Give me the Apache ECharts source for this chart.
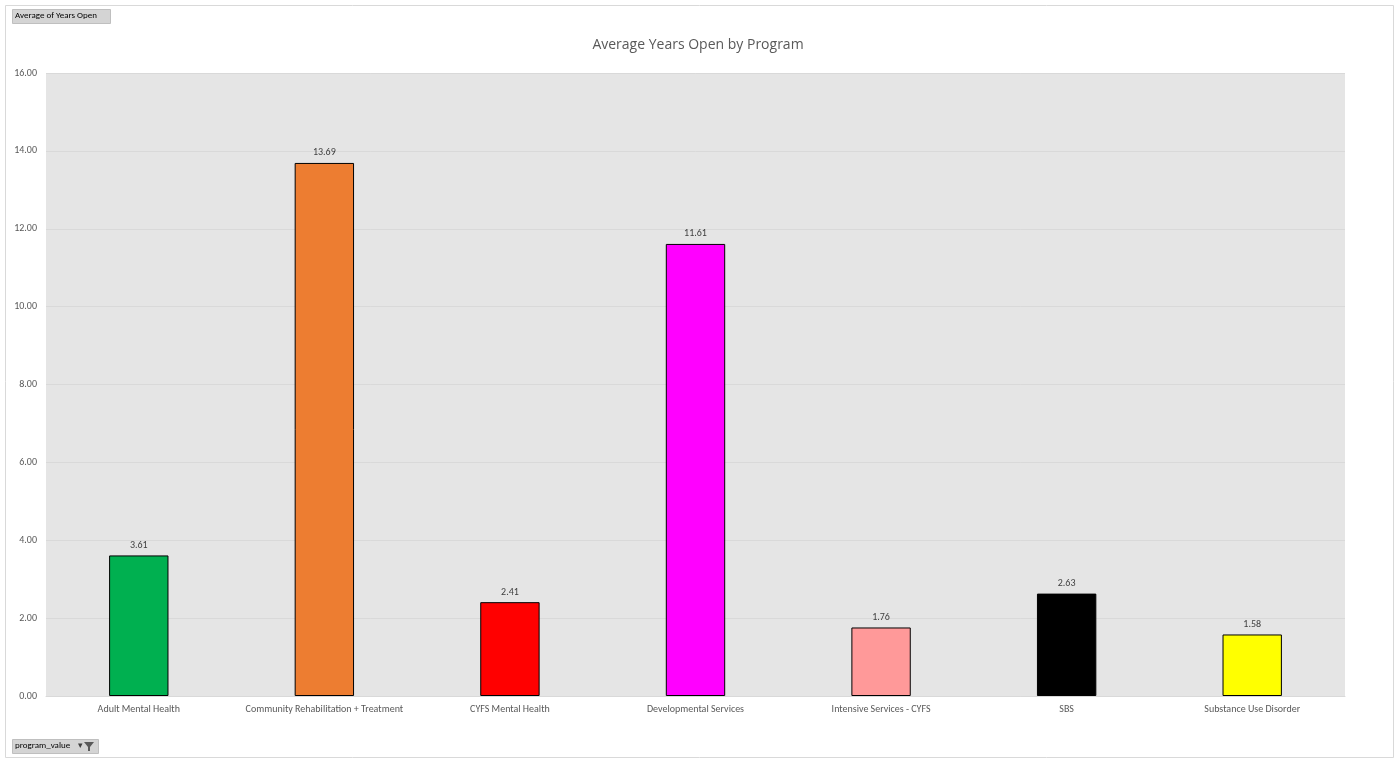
<!DOCTYPE html>
<html>
<head>
<meta charset="utf-8">
<script src="https://cdn.jsdelivr.net/npm/echarts@6/dist/echarts.min.js"></script>
<style>
html,body{margin:0;padding:0;background:#fff;}
#chart{width:1396px;height:758px;}
</style>
</head>
<body>
<div id="chart"></div>
<script>
const categories = ["Adult Mental Health","Community Rehabilitation + Treatment","CYFS Mental Health","Developmental Services","Intensive Services - CYFS","SBS","Substance Use Disorder"];
const values = [3.61, 13.69, 2.41, 11.61, 1.76, 2.63, 1.58];
const barColors = ["#00B050","#ED7D31","#FF0000","#FF00FF","#FF9999","#000000","#FFFF00"];
const chartTitle = "Average Years Open by Program";
const fieldButton = "Average of Years Open";
const filterButton = "program_value";

const chart = echarts.init(document.getElementById('chart'), null, {renderer:'canvas'});
const font = 'Calibri, Carlito, "Liberation Sans", "DejaVu Sans", sans-serif';
chart.setOption({
  backgroundColor:'#fff',
  animation:false,
  title:{text:chartTitle,left:'center',top:33,textStyle:{fontFamily:'"Open Sans", sans-serif',fontSize:14,fontWeight:'normal',color:'#595959'}},
  grid:{left:46,right:51,top:73,bottom:62,containLabel:false,show:true,backgroundColor:'#E5E5E5',borderWidth:0},
  xAxis:{type:'category',data:categories,
    axisLine:{lineStyle:{color:'#D9D9D9'}},axisTick:{show:false},
    axisLabel:{fontFamily:font,fontSize:10,color:'#595959',margin:8,interval:0}},
  yAxis:{type:'value',min:0,max:16,interval:2,
    axisLine:{show:false},axisTick:{show:false},
    splitLine:{lineStyle:{color:'#D9D9D9'}},
    axisLabel:{fontFamily:font,fontSize:10,color:'#595959',formatter:v=>v.toFixed(2),margin:9}},
  series:[{type:'bar',barWidth:'32%',
    data:values.map((v,i)=>({value:v,itemStyle:{color:barColors[i]}})),
    itemStyle:{borderColor:'#000',borderWidth:1},
    label:{show:true,position:'top',fontFamily:font,fontSize:10,color:'#404040',formatter:p=>p.value.toFixed(2),distance:5}
  }],
  graphic:[
    {type:'rect',left:3,top:3,shape:{width:1388,height:752},style:{fill:'none',stroke:'#D9D9D9',lineWidth:1},silent:true},
    {type:'rect',left:12,top:9,shape:{width:98,height:14},style:{fill:'#D4D4D4',stroke:'#BFBFBF'}},
    {type:'text',left:15,top:11,style:{text:fieldButton,font:'9px '+font,fill:'#000'}},
    {type:'rect',left:12,top:739,shape:{width:86,height:14},style:{fill:'#D4D4D4',stroke:'#BFBFBF'}},
    {type:'text',left:15,top:741,style:{text:filterButton,font:'9px '+font,fill:'#000'}},
    {type:'text',left:78,top:741,style:{text:'▾',font:'9px '+font,fill:'#404040'}},
    {type:'polygon',shape:{points:[[84,742],[94,742],[90,747],[90,751],[88,751],[88,747]]},style:{fill:'#595959'}}
  ]
});
</script>
</body>
</html>
